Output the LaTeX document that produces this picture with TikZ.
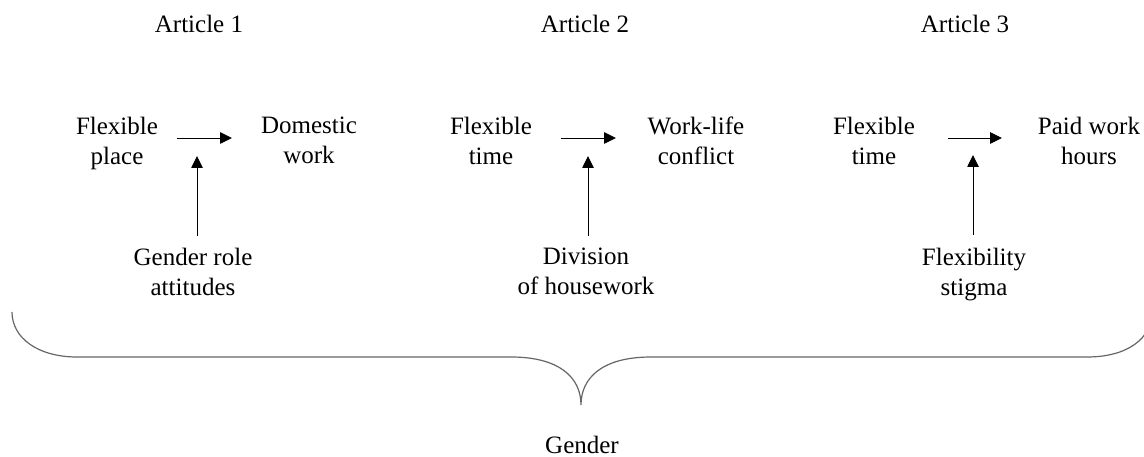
\documentclass[tikz,border=0pt]{standalone}
\usepackage{fontspec}
\setmainfont{Liberation Serif}
\usetikzlibrary{arrows.meta}
\begin{document}
\begin{tikzpicture}[x=1pt,y=1pt,
  lbl/.style={inner sep=0pt,anchor=north,align=center,font=\fontsize{25}{30}\selectfont},
  arr/.style={line width=0.9pt,-{Triangle[length=12pt,width=11.5pt]}},
  bracel/.style={line width=1.2pt,draw=black!60}]
\useasboundingbox (0,0) rectangle (1144,-457);
\clip (0,0) rectangle (1144,-457);
% headings
\node[lbl] (a1) at (199,-15) {Article 1};
\node[lbl] (a2) at (585,-15) {Article 2};
\node[lbl] (a3) at (965,-15) {Article 3};
% article 1
\node[lbl] (fp) at (117,-117) {Flexible\\place};
\node[lbl] (dw) at (309,-117) {Domestic\\work};
\node[lbl] (gr) at (193,-248) {Gender role\\attitudes};
% article 2
\node[lbl] (ft2) at (491,-117) {Flexible\\time};
\node[lbl] (wl) at (696,-117) {Work-life\\conflict};
\node[lbl] (dh) at (586,-248) {Division\\of housework};
% article 3
\node[lbl] (ft3) at (874,-117) {Flexible\\time};
\node[lbl] (pw) at (1089,-117) {Paid work\\hours};
\node[lbl] (fs) at (974,-248) {Flexibility\\stigma};
% gender
\node[lbl] (g) at (582,-436) {Gender};
% arrow end points
\coordinate (h1s) at (177,-138); \coordinate (h1e) at (232,-138);
\coordinate (h2s) at (561,-138); \coordinate (h2e) at (616,-138);
\coordinate (h3s) at (948,-138); \coordinate (h3e) at (1002,-138);
\coordinate (v1) at (197,-156);
\coordinate (v2) at (588,-156);
\coordinate (v3) at (973,-155);
\draw[arr] (h1s) -- (h1e);
\draw[arr] (h2s) -- (h2e);
\draw[arr] (h3s) -- (h3e);
\draw[arr,shorten <=12pt] (gr.north -| v1) -- (v1);
\draw[arr,shorten <=12pt] (dh.north -| v2) -- (v2);
\draw[arr,shorten <=13pt] (fs.north -| v3) -- (v3);
% brace
\draw[bracel] (12,-312) .. controls (12,-338) and (38,-357) .. (77,-357)
  -- (511,-357) .. controls (560,-357) and (581,-378) .. (581,-405)
  .. controls (581,-378) and (602,-357) .. (651,-357)
  -- (1087,-357) .. controls (1128,-357) and (1152,-338) .. (1152,-312);
\end{tikzpicture}
\end{document}
